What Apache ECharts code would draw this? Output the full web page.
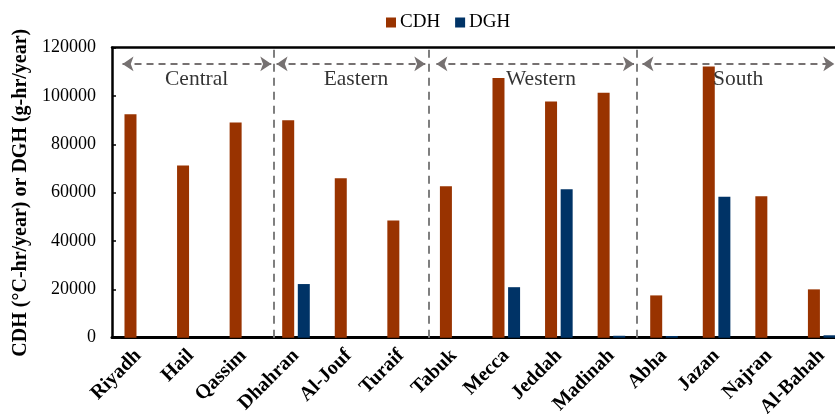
<!DOCTYPE html>
<html>
<head>
<meta charset="utf-8">
<script src="https://cdn.jsdelivr.net/npm/echarts@6/dist/echarts.min.js"></script>
<style>
  html, body { margin: 0; padding: 0; background: #fff; }
  #chart { width: 835px; height: 414px; }
</style>
</head>
<body>
<div id="chart"></div>
<script>
// Cities, grouped by region
const cities = ['Riyadh', 'Hail', 'Qassim', 'Dhahran', 'Al-Jouf', 'Turaif', 'Tabuk',
  'Mecca', 'Jeddah', 'Madinah', 'Abha', 'Jazan', 'Najran', 'Al-Bahah'];

// Cooling degree hours (°C-hr/year)
const cdh = [92500, 71300, 89000, 90000, 66000, 48500, 62700,
  107500, 97700, 101400, 17500, 112200, 58500, 20000];

// Dehumidification gram hours (g-hr/year)
const dgh = [0, 0, 0, 22200, 0, 0, 0,
  20900, 61400, 800, 700, 58300, 0, 1000];

// y-axis ticks
const yMin = 0, yMax = 120000, yStep = 20000;

// Region groups: name, arrow span and label position (in category units)
const regionNames = ['Central', 'Eastern', 'Western', 'South'];
const regionArrowStart = [0.20, 3.13, 6.17, 10.09];
const regionArrowEnd = [3.03, 5.96, 9.93, 13.74];
const regionLabelX = [1.61, 4.64, 8.16, 11.91];
const regionArrowY = 113300;
const regionLabelY = 106800;
// Boundaries between regions, in category units
const regionBounds = [3.08, 6.02, 9.98];

const serif = '"Liberation Serif", "Times New Roman", serif';
const chart = echarts.init(document.getElementById('chart'), null, { renderer: 'canvas' });

const arrowLines = regionNames.map((n, i) => [
  { coord: [regionArrowStart[i], regionArrowY], symbol: 'arrow' },
  { coord: [regionArrowEnd[i], regionArrowY], symbol: 'arrow' }
]);

chart.setOption({
  animation: false,
  backgroundColor: '#fff',
  legend: {
    data: ['CDH', 'DGH'],
    left: 381, top: 8,
    itemWidth: 10, itemHeight: 10, itemGap: 15,
    icon: 'rect',
    textStyle: { fontFamily: serif, fontSize: 19, color: '#000', padding: [0, 0, 0, -1] }
  },
  grid: {
    left: 112, right: -13, top: 47.7, bottom: 76.3,
    containLabel: false, outerBoundsMode: 'none'
  },
  xAxis: [
    {
      type: 'category',
      data: cities,
      axisLine: { lineStyle: { color: '#000', width: 3 } },
      axisTick: { show: false },
      axisLabel: {
        interval: 0, rotate: 45, margin: 15,
        fontFamily: serif, fontWeight: 'bold', fontSize: 20, color: '#000'
      }
    },
    {
      type: 'value', min: 0, max: cities.length, position: 'top',
      axisLine: { show: true, onZero: false, lineStyle: { color: '#000', width: 2.5 } },
      axisTick: { show: false }, axisLabel: { show: false }, splitLine: { show: false }
    }
  ],
  yAxis: {
    type: 'value', min: yMin, max: yMax, interval: yStep,
    name: 'CDH (°C-hr/year) or DGH (g-hr/year)',
    nameLocation: 'middle', nameGap: 80, nameRotate: 90,
    nameTextStyle: { fontFamily: serif, fontWeight: 'bold', fontSize: 20, color: '#000' },
    axisLine: { show: true, lineStyle: { color: '#000', width: 2.5 } },
    axisTick: { show: true, inside: true, length: 4, lineStyle: { color: '#000', width: 1.5 } },
    axisLabel: {
      fontFamily: serif, fontSize: 18, color: '#000', margin: 16,
      formatter: v => String(v)
    },
    splitLine: { show: false }
  },
  series: [
    {
      name: 'CDH', type: 'bar', data: cdh,
      barWidth: 12, barGap: '30%',
      itemStyle: { color: '#993300' }
    },
    {
      name: 'DGH', type: 'bar', data: dgh,
      barWidth: 12,
      itemStyle: { color: '#003366' }
    },
    {
      // region names and span arrows
      type: 'scatter', xAxisIndex: 1, yAxisIndex: 0,
      symbolSize: 0, silent: true,
      data: regionNames.map((n, i) => ({ name: n, value: [regionLabelX[i], regionLabelY] })),
      label: {
        show: true, position: 'inside', formatter: '{b}',
        fontFamily: serif, fontSize: 21.5, color: '#000'
      },
      markLine: {
        silent: true, animation: false,
        symbol: ['none', 'none'], symbolSize: 11,
        label: { show: false },
        lineStyle: { color: '#767171', width: 2, type: [7, 5] },
        data: arrowLines
      }
    },
    {
      // dashed boundaries between regions
      type: 'scatter', xAxisIndex: 1, yAxisIndex: 0,
      symbolSize: 0, silent: true, data: [],
      markLine: {
        silent: true, animation: false,
        symbol: ['none', 'none'],
        label: { show: false },
        lineStyle: { color: '#7f7f7f', width: 2, type: [8, 6] },
        data: regionBounds.map(b => ({ xAxis: b }))
      }
    }
  ]
});
</script>
</body>
</html>
